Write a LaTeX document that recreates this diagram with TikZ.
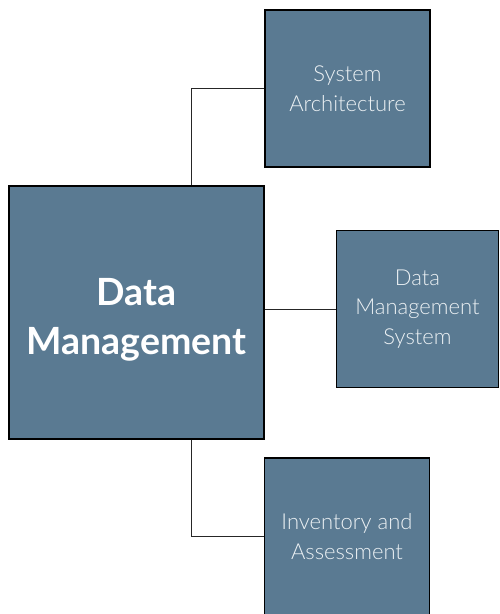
\documentclass[tikz,border=0pt]{standalone}
\usepackage{fontspec}
\setmainfont{Lato}
\newfontfamily\lightfont{Lato Light}
\usetikzlibrary{positioning}
\definecolor{boxblue}{RGB}{90,122,146}
\definecolor{boxtext}{RGB}{236,241,244}

\begin{document}
\begin{tikzpicture}[x=1pt,y=1pt,thick,draw=black]
    \tikzstyle{box}=[rectangle,fill=boxblue,draw=black,line width=1.3pt,align=center,inner sep=0pt]
    \tikzstyle{sub topic}=[box,text=boxtext,minimum width=165pt,minimum height=157pt,font=\lightfont\fontsize{22}{29.5}\selectfont]
    \tikzstyle{main topic}=[box,minimum width=255pt,minimum height=253pt]
    \tikzstyle{main label}=[text=white,align=center,yshift=-7pt,font=\fontsize{37.5}{49}\selectfont\bfseries]
    \tikzstyle{link}=[draw=black!85,line width=1pt]

    \useasboundingbox (0,0) rectangle (499,-614);

    \node[main topic, label={[main label]center:{Data\\Management}}] (data) at (136.5,-312.5) {};
    \node[sub topic] (arch) at (347.5,-88.5) {System\\Architecture};
    \node[sub topic, minimum width=162pt] (dms) at (417.5,-309) {Data\\Management\\System};
    \node[sub topic] (inv) at (347,-536.5) {Inventory and\\Assessment};

    \draw[link] ([xshift=54.5pt]data.north) |- (arch.west);
    \draw[link] (data.east |- dms.west) -- (dms.west);
    \draw[link] ([xshift=54.5pt]data.south) |- (inv.west);
\end{tikzpicture}
\end{document}
